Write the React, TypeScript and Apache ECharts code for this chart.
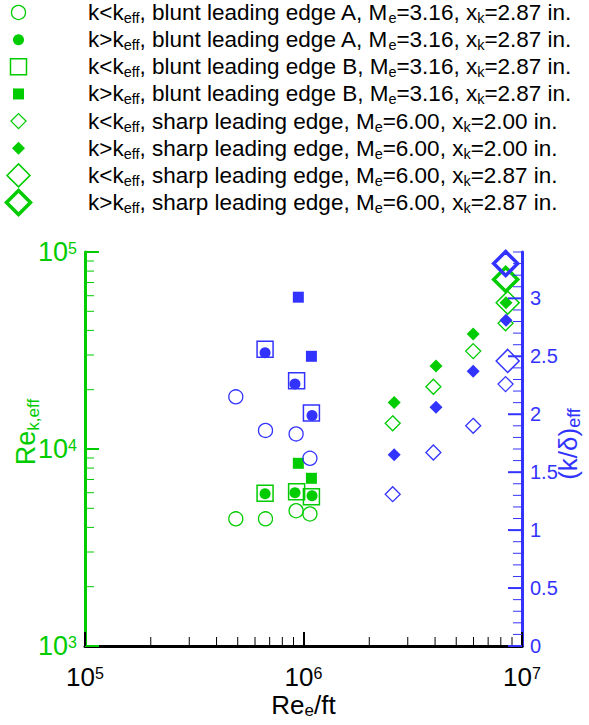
import React, { useEffect, useRef } from "react";
import * as echarts from "echarts";

const GREEN = "#00cc00";
const BLUE = "#3333ff";
const FONT = "'Liberation Sans', Arial, Helvetica, sans-serif";

// ---------------- data ----------------
// blunt leading edge A, Me=3.16, xk=2.87 in.
const bluntALowX = [4.9e5, 6.7e5, 9.25e5, 1.07e6];
const bluntALowRe = [4420, 4420, 4860, 4680];
const bluntALowKd = [2.15, 1.86, 1.83, 1.62];

const bluntAHighX = [6.67e5, 9.14e5, 1.094e6];
const bluntAHighRe = [5920, 6000, 5790];
const bluntAHighKd = [2.53, 2.26, 1.99];

// blunt leading edge B, Me=3.16, xk=2.87 in.
const bluntBLowX = [6.67e5, 9.3e5, 1.087e6];
const bluntBLowRe = [5960, 6070, 5730];
const bluntBLowKd = [2.56, 2.29, 2.01];

const bluntBHighX = [9.47e5, 1.087e6];
const bluntBHighRe = [8460, 7100];
const bluntBHighKd = [3.01, 2.5];

// sharp leading edge, Me=6.00, xk=2.00 in.
const sharp200LowX = [2.56e6, 3.93e6, 5.98e6, 8.41e6];
const sharp200LowRe = [13500, 20700, 31400, 43500];
const sharp200LowKd = [1.31, 1.67, 1.9, 2.26];

const sharp200HighX = [2.6e6, 4.04e6, 5.98e6, 8.45e6];
const sharp200HighRe = [17200, 26400, 38400, 55300];
const sharp200HighKd = [1.65, 2.06, 2.37, 2.81];

// sharp leading edge, Me=6.00, xk=2.87 in.
const sharp287LowX = [8.6e6];
const sharp287LowRe = [55300];
const sharp287LowKd = [2.46];

const sharp287HighX = [8.42e6];
const sharp287HighRe = [72600];
const sharp287HighKd = [3.3];

const legendLabels = [
  "k<k{s|eff}, blunt leading edge A, M{s|e}=3.16, x{s|k}=2.87 in.",
  "k>k{s|eff}, blunt leading edge A, M{s|e}=3.16, x{s|k}=2.87 in.",
  "k<k{s|eff}, blunt leading edge B, M{s|e}=3.16, x{s|k}=2.87 in.",
  "k>k{s|eff}, blunt leading edge B, M{s|e}=3.16, x{s|k}=2.87 in.",
  "k<k{s|eff}, sharp leading edge, M{s|e}=6.00, x{s|k}=2.00 in.",
  "k>k{s|eff}, sharp leading edge, M{s|e}=6.00, x{s|k}=2.00 in.",
  "k<k{s|eff}, sharp leading edge, M{s|e}=6.00, x{s|k}=2.87 in.",
  "k>k{s|eff}, sharp leading edge, M{s|e}=6.00, x{s|k}=2.87 in.",
];

// tick values
const xMinorTicks = [
  2e5, 3e5, 4e5, 5e5, 6e5, 7e5, 8e5, 9e5,
  2e6, 3e6, 4e6, 5e6, 6e6, 7e6, 8e6, 9e6,
];
const leftMinorTicks = [
  2e3, 3e3, 4e3, 5e3, 6e3, 7e3, 8e3, 9e3,
  2e4, 3e4, 4e4, 5e4, 6e4, 7e4, 8e4, 9e4,
];
const rightMajorTicks = [0, 0.5, 1, 1.5, 2, 2.5, 3];
const rightMinorTicks = [
  0.1, 0.2, 0.3, 0.4, 0.6, 0.7, 0.8, 0.9, 1.1, 1.2, 1.3, 1.4,
  1.6, 1.7, 1.8, 1.9, 2.1, 2.2, 2.3, 2.4, 2.6, 2.7, 2.8, 2.9,
  3.1, 3.2, 3.3, 3.4,
];

// ---------------- styles ----------------
const markerStyles = [
  { symbol: "circle", size: 14, filled: false, lw: 1.3 },
  { symbol: "circle", size: 11, filled: true, lw: 0 },
  { symbol: "rect", size: 16, filled: false, lw: 1.5 },
  { symbol: "rect", size: 11, filled: true, lw: 0 },
  { symbol: "diamond", size: 15, filled: false, lw: 1.3 },
  { symbol: "diamond", size: 13, filled: true, lw: 0 },
  { symbol: "diamond", size: 23, filled: false, lw: 1.5 },
  { symbol: "diamond", size: 24, filled: false, lw: 3.5 },
];

const groups = [
  { x: bluntALowX, re: bluntALowRe, kd: bluntALowKd },
  { x: bluntAHighX, re: bluntAHighRe, kd: bluntAHighKd },
  { x: bluntBLowX, re: bluntBLowRe, kd: bluntBLowKd },
  { x: bluntBHighX, re: bluntBHighRe, kd: bluntBHighKd },
  { x: sharp200LowX, re: sharp200LowRe, kd: sharp200LowKd },
  { x: sharp200HighX, re: sharp200HighRe, kd: sharp200HighKd },
  { x: sharp287LowX, re: sharp287LowRe, kd: sharp287LowKd },
  { x: sharp287HighX, re: sharp287HighRe, kd: sharp287HighKd },
];

const zip = (a: number[], b: number[]) => a.map((v, i) => [v, b[i]]);

function scatterSeries(color: string, yAxisIndex: number, key: "re" | "kd") {
  return groups.map((g, i) => {
    const m = markerStyles[i];
    return {
      type: "scatter",
      name: `${key}-${i}`,
      xAxisIndex: 0,
      yAxisIndex,
      data: zip(g.x, g[key]),
      symbol: m.symbol,
      symbolSize: m.size,
      silent: true,
      z: 3,
      itemStyle: {
        color: m.filled ? color : "rgba(0,0,0,0)",
        borderColor: color,
        borderWidth: m.lw,
        opacity: 1,
      },
      emphasis: { disabled: true },
    };
  });
}

const LEG_X = 18.5;
const LEG_Y0 = 12.5;
const LEG_DY = 27.15;

function legendGraphics() {
  const out: any[] = [];
  markerStyles.forEach((m, i) => {
    const cy = LEG_Y0 + i * LEG_DY;
    const style = {
      fill: m.filled ? GREEN : "none",
      stroke: GREEN,
      lineWidth: m.lw,
    };
    const s = m.size;
    if (m.symbol === "circle") {
      out.push({ type: "circle", shape: { cx: LEG_X, cy, r: s / 2 }, style });
    } else if (m.symbol === "rect") {
      out.push({
        type: "rect",
        shape: { x: LEG_X - s / 2, y: cy - s / 2, width: s, height: s },
        style,
      });
    } else {
      out.push({
        type: "polygon",
        shape: {
          points: [
            [LEG_X, cy - s / 2],
            [LEG_X + s / 2, cy],
            [LEG_X, cy + s / 2],
            [LEG_X - s / 2, cy],
          ],
        },
        style,
      });
    }
    out.push({
      type: "text",
      x: 88,
      y: cy,
      style: {
        text: legendLabels[i],
        fill: "#000",
        fontSize: 22.5,
        fontFamily: FONT,
        lineHeight: 26,
        align: "left",
        verticalAlign: "middle",
        rich: {
          s: {
            fontSize: 14.5,
            fontFamily: FONT,
            lineHeight: 8,
            verticalAlign: "bottom",
            fill: "#000",
          },
        },
      },
    });
  });
  return out;
}

const powLabel = (v: number) => `{b|10}{p|${Math.round(Math.log10(v))}}`;

function powRich(color: string, size: number) {
  return {
    b: { fontSize: size, lineHeight: 24, color, fontFamily: FONT },
    p: {
      fontSize: 16,
      lineHeight: 6,
      verticalAlign: "top",
      color,
      fontFamily: FONT,
    },
  };
}

export default function App() {
  const ref = useRef<HTMLDivElement>(null);

  useEffect(() => {
    if (!ref.current) return;
    const chart = echarts.init(ref.current, undefined, { renderer: "svg" });

    const option: any = {
      animation: false,
      textStyle: { fontFamily: FONT },
      grid: {
        left: 85,
        top: 252,
        width: 437,
        height: 394,
        containLabel: false,
        outerBoundsMode: "none",
      },
      xAxis: [
        {
          type: "log",
          logBase: 10,
          min: 1e5,
          max: 1e7,
          name: "Re{s|e}/ft",
          nameLocation: "middle",
          nameGap: 45,
          nameMoveOverlap: false,
          nameTextStyle: {
            color: "#000",
            fontSize: 26,
            lineHeight: 28,
            fontFamily: FONT,
            rich: {
              s: {
                fontSize: 17,
                lineHeight: 8,
                verticalAlign: "bottom",
                color: "#000",
                fontFamily: FONT,
              },
            },
          },
          axisLine: { show: true, lineStyle: { color: "#000", width: 3 } },
          axisTick: { show: true, inside: true, length: 14, lineStyle: { color: "#000", width: 2 } },
          minorTick: { show: false },
          splitLine: { show: false },
          axisLabel: {
            margin: 19,
            showMinLabel: true,
            showMaxLabel: true,
            formatter: powLabel,
            rich: powRich("#000", 26),
          },
        },
      ],
      yAxis: [
        {
          type: "log",
          logBase: 10,
          min: 1e3,
          max: 1e5,
          position: "left",
          name: "Re{s|k,eff}",
          nameLocation: "middle",
          nameRotate: 90,
          nameGap: 43,
          nameMoveOverlap: false,
          nameTextStyle: {
            color: GREEN,
            fontSize: 27,
            lineHeight: 32,
            fontFamily: FONT,
            padding: [0, 0, 0, 34],
            rich: {
              s: {
                fontSize: 17,
                lineHeight: 11,
                verticalAlign: "bottom",
                color: GREEN,
                fontFamily: FONT,
              },
            },
          },
          axisLine: { show: true, onZero: false, lineStyle: { color: GREEN, width: 3 } },
          axisTick: { show: true, inside: true, length: 14, lineStyle: { color: GREEN, width: 2 } },
          splitLine: { show: false },
          axisLabel: {
            margin: 8,
            showMinLabel: true,
            showMaxLabel: true,
            formatter: powLabel,
            rich: powRich(GREEN, 27),
          },
        },
        {
          type: "value",
          min: 0,
          max: 3.4,
          interval: 0.5,
          position: "right",
          name: "(k/δ){s|eff}",
          nameLocation: "middle",
          nameRotate: 90,
          nameGap: 31,
          nameMoveOverlap: false,
          nameTextStyle: {
            color: BLUE,
            fontSize: 26,
            lineHeight: 30,
            fontFamily: FONT,
            padding: [0, 0, 0, 10],
            rich: {
              s: {
                fontSize: 18,
                lineHeight: 11,
                verticalAlign: "bottom",
                color: BLUE,
                fontFamily: FONT,
              },
            },
          },
          axisLine: { show: true, onZero: false, lineStyle: { color: BLUE, width: 3 } },
          axisTick: { show: false },
          splitLine: { show: false },
          axisLabel: {
            margin: 8,
            color: BLUE,
            fontSize: 20,
            fontFamily: FONT,
            showMaxLabel: false,
          },
        },
      ],
      series: [
        ...scatterSeries(GREEN, 0, "re"),
        ...scatterSeries(BLUE, 1, "kd"),
      ],
    };

    chart.setOption(option);

    // tick marks placed through the axes' own scales
    const px = (v: number) => chart.convertToPixel({ xAxisIndex: 0 } as any, v) as number;
    const pyL = (v: number) => chart.convertToPixel({ yAxisIndex: 0 } as any, v) as number;
    const pyR = (v: number) => chart.convertToPixel({ yAxisIndex: 1 } as any, v) as number;
    const bottom = pyL(1e3);
    const leftX = px(1e5);
    const rightX = px(1e7);

    const tickLine = (x1: number, y1: number, x2: number, y2: number, color: string, w: number) => ({
      type: "line",
      z: 10,
      silent: true,
      shape: { x1, y1, x2, y2 },
      style: { stroke: color, lineWidth: w },
    });

    const ticks: any[] = [];
    xMinorTicks.forEach((v) => {
      const x = px(v);
      ticks.push(tickLine(x, bottom, x, bottom - 9, "#000", 1));
    });
    leftMinorTicks.forEach((v) => {
      const y = pyL(v);
      ticks.push(tickLine(leftX, y, leftX + 9, y, GREEN, 1));
    });
    rightMinorTicks.forEach((v) => {
      const y = pyR(v);
      ticks.push(tickLine(rightX, y, rightX - 9, y, BLUE, 1));
    });
    rightMajorTicks.forEach((v) => {
      const y = pyR(v);
      ticks.push(tickLine(rightX, y, rightX - 14, y, BLUE, 2));
    });

    chart.setOption({ graphic: [...legendGraphics(), ...ticks] });

    return () => chart.dispose();
  }, []);

  return (
    <div
      ref={ref}
      style={{ position: "absolute", left: 0, top: 0, width: 589, height: 725 }}
    />
  );
}
